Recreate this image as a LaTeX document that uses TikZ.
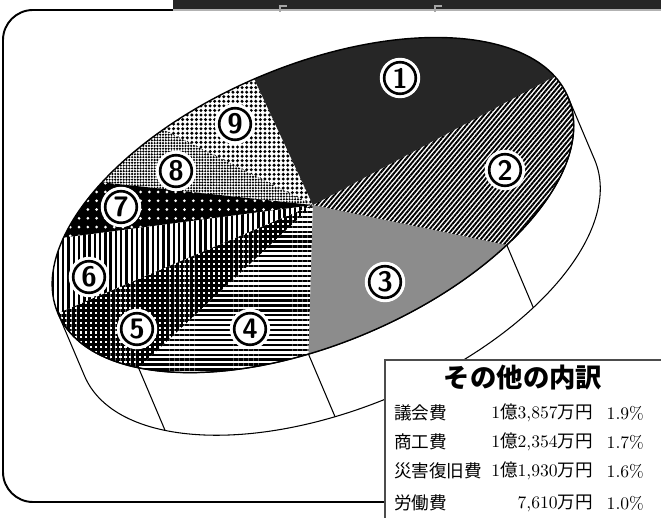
\documentclass[tikz,border=0pt]{standalone}
\usepackage{fontspec}
\usetikzlibrary{patterns.meta}
\newfontfamily\jp{Noto Sans CJK JP}
\tikzset{
  num/.style={circle, draw=black, line width=1.5pt, fill=white, minimum size=18pt, inner sep=0pt,
    font=\sffamily\bfseries\fontsize{16}{16}\selectfont, preaction={draw=white, line width=5pt}},
  item/.style={anchor=west, font=\fontsize{10}{12}\selectfont\jp},
  money/.style={anchor=east, font=\fontsize{10}{12}\selectfont},
  wall/.style={line width=0.6pt}
}

\begin{document}
\begin{tikzpicture}[x=0.02cm,y=0.02cm]
\useasboundingbox (0,0) rectangle (661,517);
% frame and the dark bar on top
\draw[line width=1.1pt, rounded corners=0.6cm] (661,507) -- (3,507) -- (3,15) -- (661,15);
\fill[black!85] (173,507) rectangle (661,517);
\draw[black!30, line width=0.6pt] (173,507) -- (661,507);
\draw[black!35, line width=0.8pt] (280,505) -- (280,511) -- (287,511);
\draw[black!35, line width=0.8pt] (435,505) -- (435,511) -- (442,511);
% the pie, tilted axes
\begin{scope}[shift={(6.26cm,6.24cm)}, x={(0.01841cm,0.00781cm)}, y={(-0.00781cm,0.01841cm)}, x radius=277, y radius=139]
% side wall
\filldraw[wall, fill=white] (0:277 and 139) arc[start angle=0, end angle=-180] -- ++(0,-68) arc[start angle=180, end angle=360] -- cycle;
\foreach \t in {-54,216,257} \draw[wall] (\t:277 and 139) -- ++(0,-68);
% top face
%     1
\fill[black!85] (0,0) -- (10:277 and 139) arc[start angle=10, end angle=91] -- cycle;
%     9
\fill[pattern={Dots[distance=2.6pt, radius=0.95pt]}] (0,0) -- (91:277 and 139) arc[start angle=91, end angle=113] -- cycle;
%     8
\fill[pattern={Dots[distance=1.6pt, radius=0.68pt]}] (0,0) -- (113:277 and 139) arc[start angle=113, end angle=132] -- cycle;
%     7
\fill[black, postaction={pattern={Dots[distance=5pt, radius=0.85pt]}, pattern color=white}] (0,0) -- (132:277 and 139) arc[start angle=132, end angle=151] -- cycle;
%     6
\fill[pattern={Lines[angle=90, distance=3pt, line width=1.4pt]}] (0,0) -- (151:277 and 139) arc[start angle=151, end angle=180] -- cycle;
%     5
\fill[pattern={Hatch[angle=0, distance=2.8pt, line width=1.6pt]}] (0,0) -- (180:277 and 139) arc[start angle=180, end angle=216] -- cycle;
%     4
\fill[pattern={Lines[angle=0, distance=2.8pt, line width=1.3pt]}] (0,0) -- (216:277 and 139) arc[start angle=216, end angle=257] -- cycle;
%     3
\fill[black!45] (0,0) -- (257:277 and 139) arc[start angle=257, end angle=306] -- cycle;
%     2
\fill[pattern={Lines[angle=50, distance=2pt, line width=1.1pt]}] (0,0) -- (306:277 and 139) arc[start angle=306, end angle=370] -- cycle;
\draw[line width=0.8pt] (0,0) ellipse [x radius=277, y radius=139];
\end{scope}
% numbers on the slices
\node[num] (s1) at (400,439) {1};
\node[num] (s2) at (505,347) {2};
\node[num] (s3) at (385,235) {3};
\node[num] (s4) at (250,188) {4};
\node[num] (s5) at (137,188) {5};
\node[num] (s6) at (89,240) {6};
\node[num] (s7) at (121,310) {7};
\node[num] (s8) at (176,346) {8};
\node[num] (s9) at (235,393) {9};
% the box
\filldraw[fill=white, draw=black!70, line width=0.8pt] (385,-10) rectangle (680,157);
\node[font=\jp\bfseries\fontsize{15}{15}\selectfont] (title) at (523,139) {その他の内訳};
%     1st row
\node[item] (n1) at (388,104) {議会費};
\node[money] (m1) at (599,104) {1{\jp 億}3,857{\jp 万円}};
\node[money] (p1) at (650,104) {1.9\%};
%     2nd row
\node[item] (n2) at (388,75) {商工費};
\node[money] (m2) at (599,75) {1{\jp 億}2,354{\jp 万円}};
\node[money] (p2) at (650,75) {1.7\%};
%     3rd row
\node[item] (n3) at (388,46) {災害復旧費};
\node[money] (m3) at (599,46) {1{\jp 億}1,930{\jp 万円}};
\node[money] (p3) at (650,46) {1.6\%};
%     4th row
\node[item] (n4) at (388,14) {労働費};
\node[money] (m4) at (599,14) {7,610{\jp 万円}};
\node[money] (p4) at (650,14) {1.0\%};
\end{tikzpicture}
\end{document}
